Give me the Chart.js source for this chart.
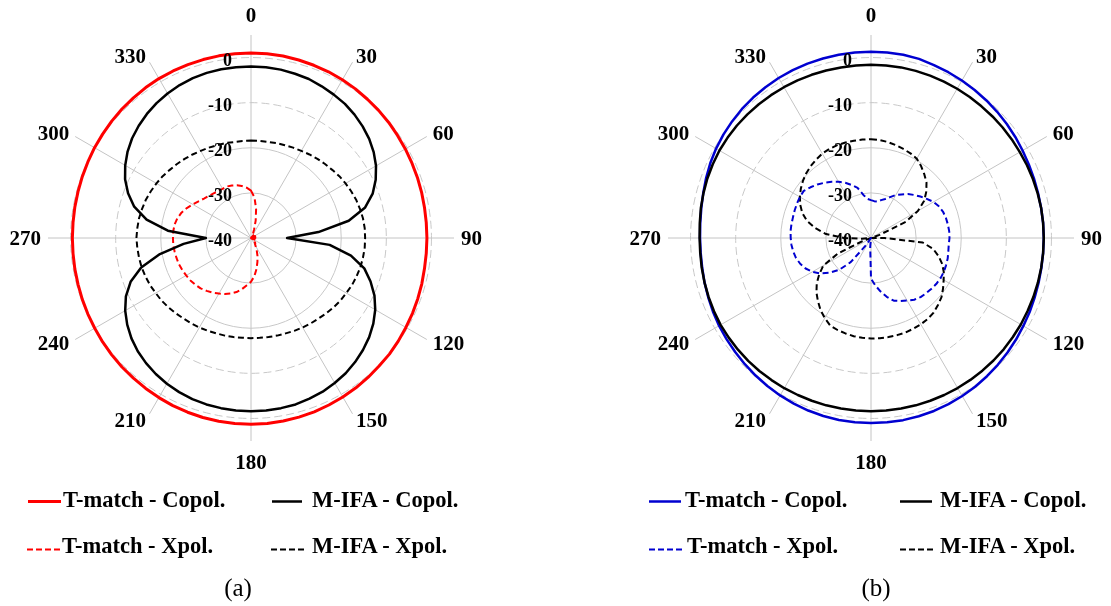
<!DOCTYPE html>
<html>
<head>
<meta charset="utf-8">
<script src="https://cdn.jsdelivr.net/npm/chart.js@4.4.1/dist/chart.umd.min.js"></script>
<style>
html,body{margin:0;padding:0;background:#fff;width:1111px;height:606px;overflow:hidden;position:relative;font-family:"Liberation Serif","Times New Roman",serif;}
canvas{position:absolute;top:0;}
#cA{left:0;}
#cB{left:620px;}
.lg{position:absolute;font-weight:bold;font-size:22.5px;line-height:24px;white-space:nowrap;color:#000;}
.cap{position:absolute;font-size:25px;line-height:30px;white-space:nowrap;color:#000;transform:translateX(-50%);}
svg.sw{position:absolute;left:0;top:0;overflow:visible;}
</style>
</head>
<body>
<canvas id="cA" width="500" height="480"></canvas>
<canvas id="cB" width="491" height="480"></canvas>
<svg class="sw" id="swatches" width="1111" height="606"></svg>
<div id="legend"></div>
<script>
// ---------- categories (azimuth, degrees) ----------
const angles = [0,5,10,15,20,25,30,35,40,45,50,55,60,65,70,75,80,85,90,95,100,105,110,115,
120,125,130,135,140,145,150,155,160,165,170,175,180,185,190,195,200,205,210,215,220,225,230,235,
240,245,250,255,260,265,270,275,280,285,290,295,300,305,310,315,320,325,330,335,340,345,350,355];

// ---------- tick labels ----------
const ringValues = [-40, -30, -20, -10, 0];
const ringLabels = ['-40', '-30', '-20', '-10', '0'];
const angleTickValues = [0, 30, 60, 90, 120, 150, 180, 210, 240, 270, 300, 330];
const angleTickLabels = ['0', '30', '60', '90', '120', '150', '180', '210', '240', '270', '300', '330'];

const seriesNames = ['T-match - Copol.', 'T-match - Xpol.', 'M-IFA - Copol.', 'M-IFA - Xpol.'];
const panelCaptions = ['(a)', '(b)'];

// ---------- panel (a) series, dB ----------
const tmCopolA = [1.0,1.0,0.95,0.85,0.75,0.65,0.5,0.35,0.15,0.0,-0.15,-0.35,-0.5,-0.65,-0.75,-0.85,-0.95,-1.0,
-1.0,-1.0,-0.95,-0.8,-0.65,-0.5,-0.35,-0.15,0.05,0.15,0.35,0.55,0.7,0.85,1.0,1.1,1.2,1.3,
1.3,1.3,1.25,1.2,1.1,1.0,0.85,0.7,0.55,0.45,0.3,0.15,0.0,-0.1,-0.2,-0.3,-0.35,-0.4,
-0.4,-0.4,-0.35,-0.3,-0.2,-0.1,0.05,0.15,0.3,0.45,0.55,0.7,0.8,0.85,0.9,0.95,1.0,1.0];

const tmXpolA = [-29.5,-31,-33.5,-36,-38,-39,-39.5,-40,-39.5,-39,-39.5,-40,-39.5,-39,-39.5,-40,-39.5,-38.8,
-38.5,-38.8,-39.5,-40,-39.5,-39,-39.5,-40,-39.5,-39,-38.5,-38.5,-38,-37,-35.8,-34.5,-33,-31.5,
-30.3,-29.5,-28.5,-27.6,-26.9,-26.3,-25.8,-25.2,-24.7,-24.2,-23.9,-23.6,-23.4,-23.2,-23,-22.9,-22.8,-22.7,
-22.7,-22.7,-22.8,-23.1,-23.6,-24.3,-25.1,-25.8,-26.4,-26.8,-27.1,-27.3,-27.4,-27.4,-27.6,-27.9,-28.3,-28.8];

const mifaCopolA = [-2,-2,-2.1,-2.3,-2.5,-2.9,-3.3,-3.7,-4.3,-5,-5.8,-6.8,-8,-9.5,-11.3,-13.8,-18,-25,
-32,-22.5,-17.5,-14,-11.8,-9.8,-8.2,-6.9,-5.8,-4.9,-4.1,-3.4,-2.9,-2.4,-2.1,-1.8,-1.7,-1.6,
-1.6,-1.6,-1.7,-1.8,-2.0,-2.3,-2.7,-3.2,-3.8,-4.5,-5.4,-6.5,-7.8,-9.4,-11.6,-14.8,-19.5,-25,
-30,-21.5,-16.5,-13.2,-11,-9.2,-7.8,-6.6,-5.6,-4.8,-4.1,-3.5,-3.0,-2.6,-2.3,-2.1,-2.0,-2.0];

const mifaXpolA = [-18.4,-18.4,-18.4,-18.2,-18.1,-17.9,-17.7,-17.4,-17.1,-16.8,-16.5,-16.1,-15.8,-15.5,-15.2,-15.0,-14.8,-14.7,
-14.7,-14.7,-14.8,-14.9,-15.1,-15.3,-15.6,-15.8,-16.1,-16.4,-16.7,-16.9,-17.1,-17.3,-17.5,-17.6,-17.7,-17.8,
-17.8,-17.8,-17.7,-17.6,-17.5,-17.3,-17.1,-16.9,-16.7,-16.4,-16.1,-15.8,-15.6,-15.3,-15.1,-14.9,-14.8,-14.7,
-14.6,-14.7,-14.8,-15.0,-15.2,-15.5,-15.8,-16.1,-16.5,-16.8,-17.1,-17.4,-17.7,-17.9,-18.1,-18.2,-18.4,-18.4];

// ---------- panel (b) series, dB ----------
const tmCopolB = [1.3,1.3,1.25,1.1,0.8,0.55,0.3,0.05,-0.2,-0.45,-0.7,-0.95,-1.2,-1.4,-1.55,-1.65,-1.7,-1.7,
-1.7,-1.7,-1.65,-1.55,-1.4,-1.2,-1.0,-0.75,-0.5,-0.25,0.0,0.25,0.45,0.65,0.8,0.9,1.0,1.0,
1.0,1.0,0.95,0.85,0.7,0.5,0.3,0.05,-0.2,-0.45,-0.7,-0.9,-1.1,-1.35,-1.6,-1.8,-2.0,-2.1,
-2.1,-2.0,-1.8,-1.5,-1.1,-0.7,-0.35,-0.05,0.2,0.45,0.65,0.8,0.95,1.05,1.15,1.2,1.25,1.3];

const tmXpolB = [-31.6,-31.8,-31.8,-31.3,-30.8,-30,-29,-28.2,-27.3,-26.5,-25.7,-24.9,-24,-23.4,-23,-22.8,-22.7,-22.6,
-22.6,-22.7,-22.6,-22.4,-22.3,-22.2,-22.2,-22.3,-22.5,-22.7,-22.9,-23.3,-24,-24.6,-25.2,-26.5,-28,-29.5,
-31,-38,-40,-40,-40,-40,-40,-38,-33,-30,-28,-26.3,-25,-24,-23.3,-22.8,-22.5,-22.3,
-22.2,-22.1,-22.1,-22.1,-22,-21.9,-21.8,-21.8,-22.5,-23.2,-24,-24.8,-25.6,-26.5,-27.5,-28.5,-30.3,-31.3];

const mifaCopolB = [-1.6,-1.6,-1.6,-1.65,-1.7,-1.75,-1.8,-1.85,-1.9,-1.9,-1.9,-1.9,-1.9,-1.85,-1.8,-1.75,-1.7,-1.7,
-1.7,-1.7,-1.7,-1.7,-1.7,-1.7,-1.65,-1.65,-1.6,-1.6,-1.6,-1.6,-1.6,-1.6,-1.6,-1.6,-1.6,-1.6,
-1.6,-1.6,-1.6,-1.6,-1.6,-1.6,-1.55,-1.55,-1.5,-1.5,-1.5,-1.5,-1.5,-1.6,-1.7,-1.8,-1.9,-2.0,
-2.0,-1.9,-1.7,-1.55,-1.4,-1.3,-1.2,-1.2,-1.2,-1.25,-1.3,-1.35,-1.4,-1.45,-1.5,-1.55,-1.6,-1.6];

const mifaXpolB = [-18.1,-18.2,-18.4,-18.7,-19,-19.3,-19.7,-20.6,-21.6,-22.6,-24,-25.6,-28,-31.5,-38,-40,-40,-40,
-37,-28.5,-26,-24.5,-23.2,-22.2,-21.4,-20.5,-19.6,-19,-18.4,-18.1,-17.9,-17.8,-17.7,-17.7,-17.7,-17.7,
-17.7,-17.8,-17.9,-18.1,-18.3,-18.6,-19.5,-20.5,-21.7,-22.9,-24.3,-26,-27.8,-32,-38,-40,-40,-38,
-34,-30,-27.5,-25.3,-23.8,-22.7,-21.8,-21,-20.3,-19.7,-19.2,-18.8,-18.4,-18.2,-18.1,-18.1,-18.1,-18.1];

// ---------- label plugin (ring values and azimuth labels) ----------
const labelPlugin = {
  id: 'polarLabels',
  afterDatasetsDraw(chart) {
    const s = chart.scales.r;
    const ctx = chart.ctx;
    ctx.save();
    ctx.fillStyle = '#000';
    ctx.font = 'bold 18px "Liberation Serif"';
    ctx.textAlign = 'right';
    ctx.textBaseline = 'alphabetic';
    ringValues.forEach((v, i) => {
      const r = s.getDistanceFromCenterForValue(v);
      ctx.fillText(ringLabels[i], s.xCenter - 19, s.yCenter - r + 8);
    });
    ctx.font = 'bold 21px "Liberation Serif"';
    const h = 14.3;
    angleTickValues.forEach((deg, i) => {
      const idx = angles.indexOf(deg);
      const p = s.getPointPosition(idx, s.drawingArea + 7);
      let y = p.y + h / 2;
      if (deg === 0) { ctx.textAlign = 'center'; y = p.y - 6; }
      else if (deg === 180) { ctx.textAlign = 'center'; y = p.y + 7 + h; }
      else if (deg < 180) { ctx.textAlign = 'left'; }
      else { ctx.textAlign = 'right'; }
      ctx.fillText(angleTickLabels[i], p.x, y);
    });
    ctx.restore();
  }
};

function makeChart(id, datasets, pad) {
  return new Chart(document.getElementById(id), {
    type: 'radar',
    data: { labels: angles, datasets: datasets },
    options: {
      responsive: false,
      animation: false,
      devicePixelRatio: 1,
      events: [],
      layout: { padding: pad },
      plugins: { legend: { display: false }, tooltip: { enabled: false } },
      elements: {
        point: { radius: 0, hitRadius: 0, hoverRadius: 0 },
        line: { tension: 0, fill: false, borderJoinStyle: 'round' }
      },
      scales: {
        r: {
          min: -40,
          max: 5,
          bounds: 'data',
          afterBuildTicks: (s) => { s.ticks = ringValues.map(v => ({ value: v })); },
          ticks: { display: false },
          pointLabels: { display: false },
          angleLines: {
            display: true,
            color: '#c4c4c4',
            lineWidth: (c) => (angles[c.index] % 30 === 0 ? 1 : 0)
          },
          grid: { circular: true, color: '#c8c8c8', lineWidth: 1 },
          border: { dash: (c) => (c.tick && c.tick.value >= -10 ? [8, 4] : []) }
        }
      }
    },
    plugins: [labelPlugin]
  });
}

const dashXpol = [6, 3.5];
const blue = '#0000d0';

makeChart('cA', [
  { label: seriesNames[0], data: tmCopolA, borderColor: '#ff0000', backgroundColor: 'transparent', borderWidth: 3, order: 1 },
  { label: seriesNames[1], data: tmXpolA, borderColor: '#ff0000', backgroundColor: 'transparent', borderWidth: 2, borderDash: dashXpol, order: 2 },
  { label: seriesNames[2], data: mifaCopolA, borderColor: '#000000', backgroundColor: 'transparent', borderWidth: 2.5, order: 0 },
  { label: seriesNames[3], data: mifaXpolA, borderColor: '#000000', backgroundColor: 'transparent', borderWidth: 2, borderDash: dashXpol, order: 3 }
], { left: 48, top: 35, right: 46, bottom: 39 });

makeChart('cB', [
  { label: seriesNames[0], data: tmCopolB, borderColor: blue, backgroundColor: 'transparent', borderWidth: 2.5, order: 1 },
  { label: seriesNames[1], data: tmXpolB, borderColor: blue, backgroundColor: 'transparent', borderWidth: 2, borderDash: dashXpol, order: 2 },
  { label: seriesNames[2], data: mifaCopolB, borderColor: '#000000', backgroundColor: 'transparent', borderWidth: 2.5, order: 0 },
  { label: seriesNames[3], data: mifaXpolB, borderColor: '#000000', backgroundColor: 'transparent', borderWidth: 2, borderDash: dashXpol, order: 3 }
], { left: 48, top: 35, right: 37, bottom: 39 });

// ---------- HTML legends ----------
const legendLayout = [
  // panel a
  { s: 0, color: '#ff0000', w: 3, dash: null, x1: 28, x2: 61, y: 501.5, tx: 63, ty: 488 },
  { s: 2, color: '#000000', w: 2.5, dash: null, x1: 272, x2: 302, y: 501.5, tx: 312, ty: 488 },
  { s: 1, color: '#ff0000', w: 2, dash: '6,3', x1: 27, x2: 60, y: 549.5, tx: 62, ty: 534 },
  { s: 3, color: '#000000', w: 2, dash: '6,3', x1: 271, x2: 304, y: 549.5, tx: 312, ty: 534 },
  // panel b
  { s: 0, color: blue, w: 2.5, dash: null, x1: 649, x2: 681, y: 501.5, tx: 685, ty: 488 },
  { s: 2, color: '#000000', w: 2.5, dash: null, x1: 900, x2: 932, y: 501.5, tx: 940, ty: 488 },
  { s: 1, color: blue, w: 2, dash: '6,3', x1: 649, x2: 684, y: 549.5, tx: 687, ty: 534 },
  { s: 3, color: '#000000', w: 2, dash: '6,3', x1: 900, x2: 935, y: 549.5, tx: 940, ty: 534 }
];
const svgNS = 'http://www.w3.org/2000/svg';
const sw = document.getElementById('swatches');
const lg = document.getElementById('legend');
legendLayout.forEach(it => {
  const ln = document.createElementNS(svgNS, 'line');
  ln.setAttribute('x1', it.x1); ln.setAttribute('x2', it.x2);
  ln.setAttribute('y1', it.y); ln.setAttribute('y2', it.y);
  ln.setAttribute('stroke', it.color); ln.setAttribute('stroke-width', it.w);
  if (it.dash) ln.setAttribute('stroke-dasharray', it.dash);
  sw.appendChild(ln);
  const d = document.createElement('div');
  d.className = 'lg';
  d.style.left = it.tx + 'px';
  d.style.top = it.ty + 'px';
  d.textContent = seriesNames[it.s];
  lg.appendChild(d);
});
[[238, panelCaptions[0]], [876, panelCaptions[1]]].forEach(([cx, t]) => {
  const d = document.createElement('div');
  d.className = 'cap';
  d.style.left = cx + 'px';
  d.style.top = '573px';
  d.textContent = t;
  lg.appendChild(d);
});
</script>
</body>
</html>
